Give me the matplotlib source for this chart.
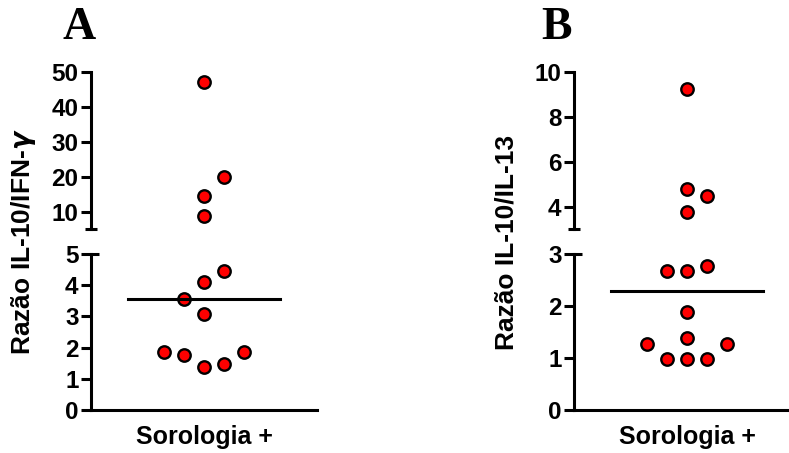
import numpy as np
import matplotlib
matplotlib.use("Agg")
import matplotlib.pyplot as plt

# values (column = horizontal slot of each dot)
a_vals = [47.2, 20.0, 14.6, 8.6, 4.47, 4.09, 3.57, 3.08, 1.87, 1.76, 1.38, 1.47, 1.87]
a_cols = [0, 1, 0, 0, 1, 0, -1, 0, -2, -1, 0, 1, 2]
b_vals = [9.22, 4.77, 4.47, 3.78, 2.68, 2.68, 2.77, 1.88, 1.38, 1.275, 1.275, 0.99, 0.99, 0.99]
b_cols = [0, 0, 1, 0, -1, 0, 1, 0, 0, -2, 2, -1, 0, 1]

a_upper_ticks = [10, 20, 30, 40, 50]
a_lower_ticks = [0, 1, 2, 3, 4, 5]
b_upper_ticks = [4, 6, 8, 10]
b_lower_ticks = [0, 1, 2, 3]

group_label = "Sorologia +"

plt.rcParams["font.family"] = ["Liberation Sans", "DejaVu Sans"]
plt.rcParams["font.weight"] = "bold"

fig = plt.figure(figsize=(7.89, 4.53), dpi=100)

LW = 2.2
W = 226 / 789


def style_axis(ax, ticks, ylim):
    ax.set_ylim(*ylim)
    ax.set_xlim(-5.65, 5.65)
    ax.set_yticks(ticks)
    ax.set_yticklabels([str(t) for t in ticks], fontsize=17.5, fontweight="bold")
    ax.tick_params(axis="y", length=7, width=LW, pad=2)
    for s in ["top", "right"]:
        ax.spines[s].set_visible(False)
    for s in ["left", "bottom"]:
        ax.spines[s].set_linewidth(LW)


def panel(left, vals, cols, up_ticks, up_lim, low_ticks, low_lim, ylabel, ylabel_x, letter, letter_x):
    ax_lo = fig.add_axes([left, 43 / 453, W, 156 / 453])
    ax_up = fig.add_axes([left, 224 / 453, W, 157 / 453])
    style_axis(ax_lo, low_ticks, low_lim)
    style_axis(ax_up, up_ticks, up_lim)

    ax_up.spines["bottom"].set_visible(False)
    ax_up.set_xticks([])
    ax_lo.set_xticks([0])
    ax_lo.set_xticklabels([group_label], fontsize=18, fontweight="bold")
    ax_lo.tick_params(axis="x", length=0, pad=11)

    # break caps
    ax_up.plot([-0.027, 0.027], [0, 0], transform=ax_up.transAxes, color="black",
               lw=LW, clip_on=False, solid_capstyle="butt")
    ax_lo.plot([0, 0.035], [1, 1], transform=ax_lo.transAxes, color="black",
               lw=LW, clip_on=False, solid_capstyle="butt")

    vals = np.array(vals)
    cols = np.array(cols)
    hi = vals >= up_lim[0]
    ax_up.scatter(cols[hi], vals[hi], s=80, facecolor="#ff0000", edgecolor="black",
                  linewidths=1.7, zorder=3)
    ax_lo.scatter(cols[~hi], vals[~hi], s=80, facecolor="#ff0000", edgecolor="black",
                  linewidths=1.7, zorder=3)
    med = np.median(vals)
    ax_lo.plot([-3.8, 3.8], [med, med], color="black", lw=LW, zorder=4)

    fig.text(ylabel_x, 211 / 453, ylabel, rotation=90, ha="center", va="center",
             fontsize=19, fontweight="bold")
    fig.text(letter_x, 1 - 28 / 453, letter, ha="center", va="center", fontsize=33,
             fontweight="bold", family=["Liberation Serif", "DejaVu Serif"])


panel(91 / 789, a_vals, a_cols, a_upper_ticks, (5.0, 50), a_lower_ticks, (0, 5),
      "Razão IL-10/IFN-$\\gamma$", 24 / 789, "A", 79 / 789)
panel(574 / 789, b_vals, b_cols, b_upper_ticks, (3.0, 10), b_lower_ticks, (0, 3),
      "Razão IL-10/IL-13", 507 / 789, "B", 556 / 789)

fig.savefig("out.png", dpi=100)
